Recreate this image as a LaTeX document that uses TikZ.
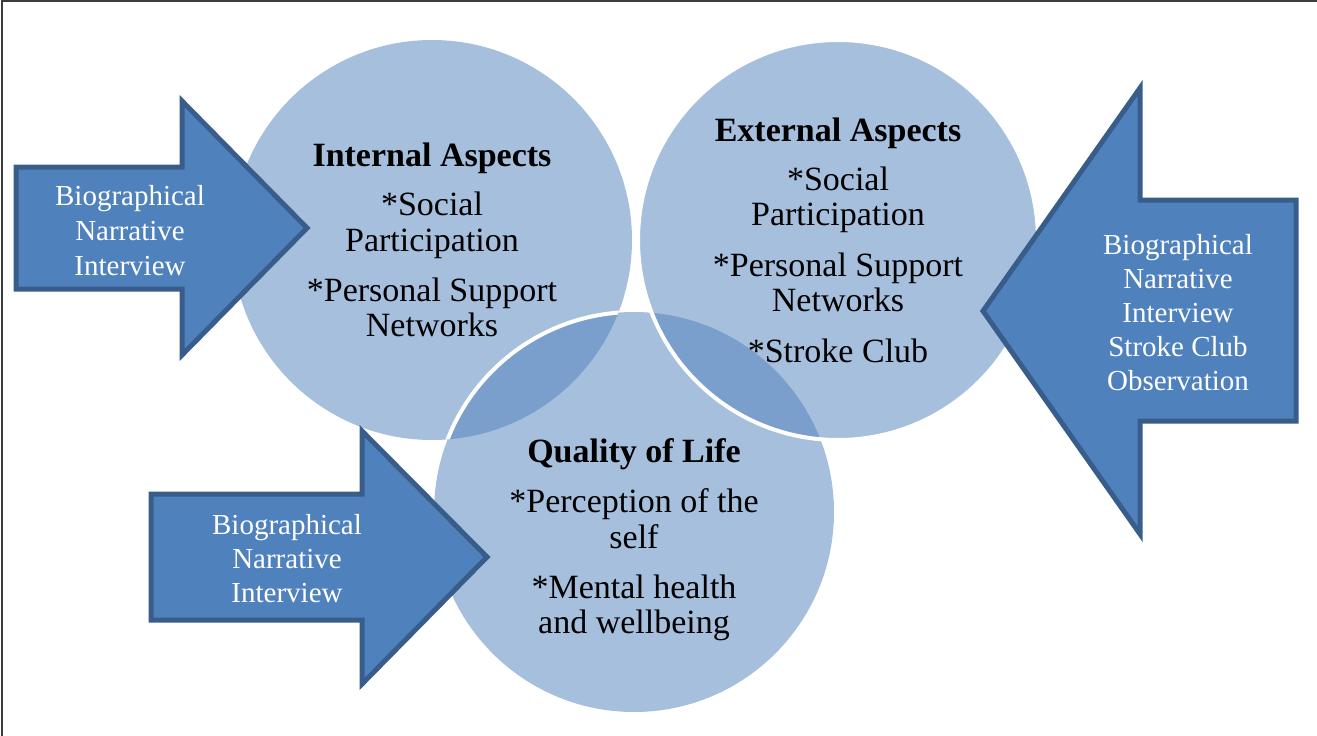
\documentclass[tikz,border=0pt]{standalone}
\usepackage{fontspec}
\setmainfont{Liberation Serif}
\definecolor{accent}{HTML}{4F81BD}
\definecolor{accentdark}{HTML}{385D8A}
\definecolor{framegray}{HTML}{3C3C3C}
\begin{document}
\begin{tikzpicture}[x=1pt,y=-1pt,
  venn/.style={circle,minimum size=400pt,inner sep=0pt},
  vennfill/.style={fill=accent,fill opacity=0.5},
  whiteline/.style={draw=white,line width=4pt},
  bigarrow/.style={fill=accent,draw=accentdark,line width=5pt,line join=miter},
  ctitle/.style={anchor=base,inner sep=0pt,font=\fontsize{34}{40}\selectfont\bfseries},
  ctext/.style={anchor=base,inner sep=0pt,font=\fontsize{34}{40}\selectfont},
  atext/.style={anchor=base,inner sep=0pt,text=white,font=\fontsize{29}{34}\selectfont}]
\useasboundingbox (0,0) rectangle (1317,736);
\fill[white] (0,0) rectangle (1317,736);
% frame
\draw[framegray,line width=2pt] (1.5,736) -- (1.5,1) -- (1317,1);

% circles
\coordinate (ci) at (432,240);
\coordinate (cq) at (634,512);
\coordinate (ce) at (838,240);
\node[venn] (internal) at (ci) {};
\node[venn] (quality) at (cq) {};
\node[venn] (external) at (ce) {};

\fill[vennfill] (ci) circle (200);
\fill[vennfill] (cq) circle (200);
\begin{scope}
  \clip (ci) circle (200);
  \draw[whiteline] (cq) circle (200);
\end{scope}
\fill[vennfill] (ce) circle (200);
\draw[whiteline] (ce) circle (200);

% arrows
\draw[bigarrow] (16,167) -- (182,167) -- (182,101) -- (307,228) -- (182,355) -- (182,289) -- (16,289) -- cycle;
\draw[bigarrow] (151,494) -- (362,494) -- (362,431) -- (487,557) -- (362,684) -- (362,620) -- (151,620) -- cycle;
\draw[bigarrow] (1296,200) -- (1140,200) -- (1140,88) -- (983,311) -- (1140,534) -- (1140,421) -- (1296,421) -- cycle;

% internal text
\node[ctitle] (it1) at (432,166) {Internal Aspects};
\node[ctext] (it2) at (432,215) {*Social};
\node[ctext] (it3) at (432,251) {Participation};
\node[ctext] (it4) at (432,301) {*Personal Support};
\node[ctext] (it5) at (432,336) {Networks};

% external text
\node[ctitle] (et1) at (838,141) {External Aspects};
\node[ctext] (et2) at (838,190) {*Social};
\node[ctext] (et3) at (838,225) {Participation};
\node[ctext] (et4) at (838,276) {*Personal Support};
\node[ctext] (et5) at (838,311) {Networks};
\node[ctext] (et6) at (838,362) {*Stroke Club};

% quality text
\node[ctitle] (qt1) at (634,462) {Quality of Life};
\node[ctext] (qt2) at (634,512) {*Perception of the};
\node[ctext] (qt3) at (634,548) {self};
\node[ctext] (qt4) at (634,598) {*Mental health};
\node[ctext] (qt5) at (634,633) {and wellbeing};

% arrow texts
\node[atext] (a1) at (130,205) {Biographical};
\node[atext] (a2) at (130,240) {Narrative};
\node[atext] (a3) at (130,275) {Interview};

\node[atext] (b1) at (287,534) {Biographical};
\node[atext] (b2) at (287,568) {Narrative};
\node[atext] (b3) at (287,602) {Interview};

\node[atext] (c1) at (1178,254) {Biographical};
\node[atext] (c2) at (1178,288) {Narrative};
\node[atext] (c3) at (1178,322) {Interview};
\node[atext] (c4) at (1178,356) {Stroke Club};
\node[atext] (c5) at (1178,390) {Observation};
\end{tikzpicture}
\end{document}
